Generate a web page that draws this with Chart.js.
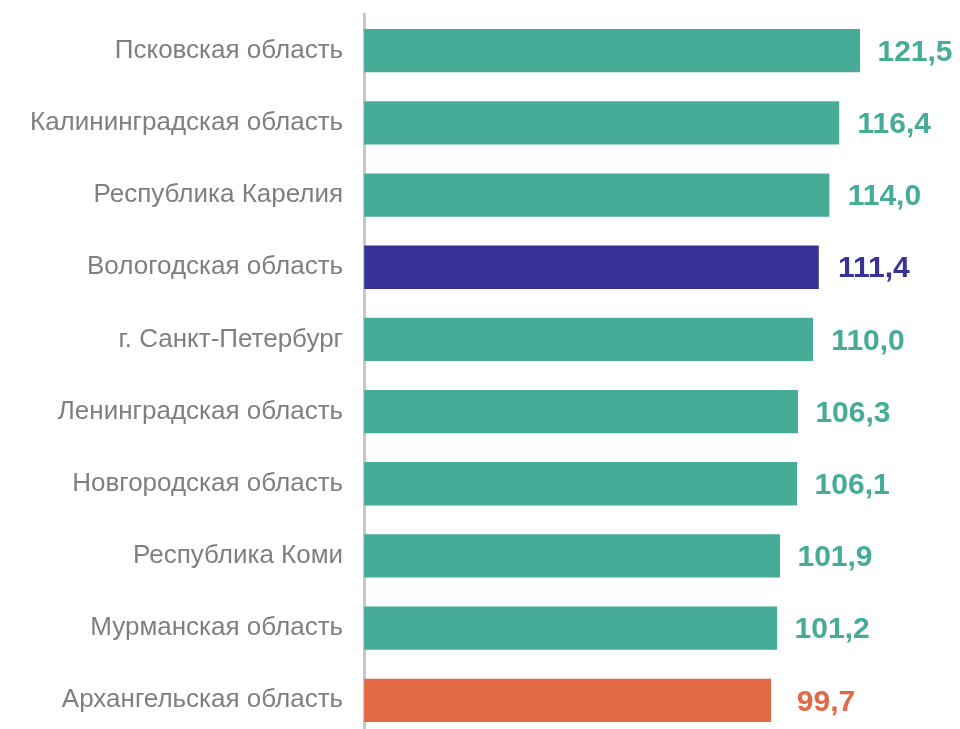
<!DOCTYPE html>
<html>
<head>
<meta charset="utf-8">
<script src="https://cdn.jsdelivr.net/npm/chart.js@4"></script>
<style>
  html, body { margin: 0; padding: 0; background: #fff; overflow: hidden; }
  #myChart { display: block; margin-top: -22px; }
</style>
</head>
<body>
<canvas id="myChart" width="960" height="795"></canvas>
<script>
const regions = [
    "Псковская область",
    "Калининградская область",
    "Республика Карелия",
    "Вологодская область",
    "г. Санкт-Петербург",
    "Ленинградская область",
    "Новгородская область",
    "Республика Коми",
    "Мурманская область",
    "Архангельская область"
];
const values = [121.5, 116.4, 114.0, 111.4, 110.0, 106.3, 106.1, 101.9, 101.2, 99.7];

const teal = "#46ab97";
const navy = "#373396";
const orange = "#e36945";

const barColors = regions.map((r) => {
    if (r === "Вологодская область") return navy;
    if (r === "Архангельская область") return orange;
    return teal;
});

// value labels to the right of each bar
const valueLabels = {
    id: "valueLabels",
    afterDatasetsDraw(chart) {
        const c = chart.ctx;
        const meta = chart.getDatasetMeta(0);
        c.save();
        c.font = "bold 30px 'Liberation Sans', Arial, sans-serif";
        c.textAlign = "center";
        c.textBaseline = "middle";
        meta.data.forEach((bar, i) => {
            c.fillStyle = barColors[i];
            c.fillText(values[i].toFixed(1).replace(".", ","), bar.x + 55, bar.y + 2);
        });
        c.restore();
    }
};

const ctx = document.getElementById("myChart");
const myChart = new Chart(ctx, {
    type: "bar",
    data: {
        labels: regions,
        datasets: [{
            data: values,
            backgroundColor: barColors,
            barPercentage: 0.6,
            categoryPercentage: 1.0
        }]
    },
    options: {
        indexAxis: "y",
        responsive: false,
        animation: false,
        layout: { padding: { top: 0, bottom: 0, left: 9, right: 0 } },
        plugins: {
            legend: { display: false },
            tooltip: { enabled: false }
        },
        scales: {
            x: {
                min: 0,
                max: 146,
                display: false
            },
            y: {
                grid: { display: false, drawTicks: false },
                border: { display: true, color: "#c8c8c8", width: 3 },
                ticks: {
                    color: "#7f7f7f",
                    padding: 21,
                    font: { family: "'Liberation Sans', Arial, sans-serif", size: 26 }
                }
            }
        }
    },
    plugins: [valueLabels]
});
</script>
</body>
</html>
